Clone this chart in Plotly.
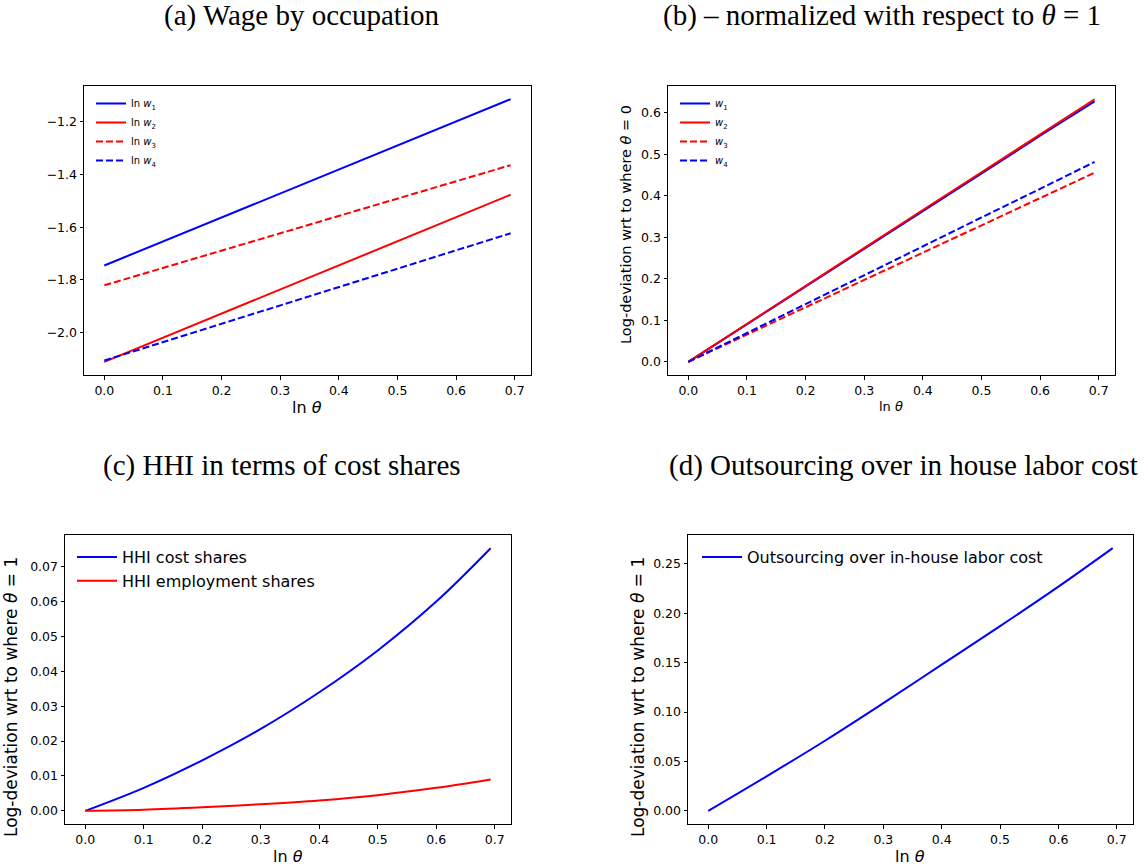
import plotly.graph_objects as go

W, H = 1145, 864

# ---------------- data ----------------
theta = [0.0, 0.1, 0.2, 0.3, 0.4, 0.5, 0.6, 0.693]

# (a) wage by occupation (levels)
ln_w1 = [-1.745, -1.654, -1.563, -1.472, -1.381, -1.290, -1.200, -1.115]
ln_w2 = [-2.110, -2.019, -1.927, -1.836, -1.744, -1.653, -1.562, -1.477]
ln_w3 = [-1.820, -1.754, -1.689, -1.623, -1.557, -1.492, -1.426, -1.365]
ln_w4 = [-2.105, -2.035, -1.966, -1.896, -1.827, -1.757, -1.688, -1.623]

# (b) normalized
w1_n = [0.0, 0.091, 0.182, 0.273, 0.364, 0.455, 0.545, 0.628]
w2_n = [0.0, 0.092, 0.183, 0.275, 0.366, 0.457, 0.548, 0.633]
w3_n = [0.0, 0.066, 0.132, 0.197, 0.263, 0.329, 0.395, 0.456]
w4_n = [0.0, 0.070, 0.139, 0.209, 0.278, 0.348, 0.417, 0.482]

# (c) HHI
hhi_cost = [0.0, 0.0066, 0.0145, 0.0235, 0.0340, 0.0460, 0.0600, 0.0753]
hhi_emp = [0.0, 0.0003, 0.0010, 0.0019, 0.0030, 0.0045, 0.0066, 0.0090]

# (d) outsourcing over in-house labor cost
outsourcing = [0.0, 0.035, 0.071, 0.109, 0.148, 0.187, 0.227, 0.266]

titles = ["(a) Wage by occupation",
          "(b) – normalized with respect to <i>θ</i> = 1",
          "(c) HHI in terms of cost shares",
          "(d) Outsourcing over in house labor cost"]

BLUE, RED = "#0000ff", "#ff0000"
DASH = "7px,3px"


def px_x(p):
    return p / W


def px_y(p):
    return 1 - p / H


fig = go.Figure()

# panel a
for name, y, col, dash in [("ln <i>w</i><sub>1</sub>", ln_w1, BLUE, "solid"),
                           ("ln <i>w</i><sub>2</sub>", ln_w2, RED, "solid"),
                           ("ln <i>w</i><sub>3</sub>", ln_w3, RED, DASH),
                           ("ln <i>w</i><sub>4</sub>", ln_w4, BLUE, DASH)]:
    fig.add_trace(go.Scatter(x=theta, y=y, mode="lines", name=name,
                             line=dict(color=col, width=2, dash=dash),
                             xaxis="x", yaxis="y", legend="legend"))
# panel b
for name, y, col, dash in [("<i>w</i><sub>1</sub>", w1_n, BLUE, "solid"),
                           ("<i>w</i><sub>2</sub>", w2_n, RED, "solid"),
                           ("<i>w</i><sub>3</sub>", w3_n, RED, DASH),
                           ("<i>w</i><sub>4</sub>", w4_n, BLUE, DASH)]:
    fig.add_trace(go.Scatter(x=theta, y=y, mode="lines", name=name,
                             line=dict(color=col, width=2, dash=dash),
                             xaxis="x2", yaxis="y2", legend="legend2"))
# panel c
fig.add_trace(go.Scatter(x=theta, y=hhi_cost, mode="lines", name="HHI cost shares",
                         line=dict(color=BLUE, width=2, shape="spline"),
                         xaxis="x3", yaxis="y3", legend="legend3"))
fig.add_trace(go.Scatter(x=theta, y=hhi_emp, mode="lines", name="HHI employment shares",
                         line=dict(color=RED, width=2, shape="spline"),
                         xaxis="x3", yaxis="y3", legend="legend3"))
# panel d
fig.add_trace(go.Scatter(x=theta, y=outsourcing, mode="lines",
                         name="Outsourcing over in-house labor cost",
                         line=dict(color=BLUE, width=2, shape="spline"),
                         xaxis="x4", yaxis="y4", legend="legend4"))

FONT = "DejaVu Sans"
tickfont = dict(family=FONT, size=12.5, color="black")

xticks = [0.0, 0.1, 0.2, 0.3, 0.4, 0.5, 0.6, 0.7]
xrange_ = [-0.0347, 0.7278]


def xaxis(dom, anchor):
    return dict(domain=dom, anchor=anchor, range=xrange_, tickvals=xticks,
                ticktext=[f"{v:.1f}" for v in xticks], ticks="outside", ticklen=3.5,
                tickwidth=1, tickcolor="black", showline=True, linecolor="black",
                linewidth=1, mirror=True, showgrid=False, zeroline=False,
                tickfont=tickfont, automargin=False)


def yaxis(dom, anchor, rng, vals, fmt):
    txt = [fmt(v).replace("-", "−") for v in vals]
    return dict(domain=dom, anchor=anchor, range=rng, tickvals=vals, ticktext=txt,
                ticks="outside", ticklen=3.5, tickwidth=1, tickcolor="black",
                showline=True, linecolor="black", linewidth=1, mirror=True,
                showgrid=False, zeroline=False, tickfont=tickfont, automargin=False)


top_dom = [px_y(375), px_y(86)]
bot_dom = [px_y(824), px_y(535)]

fig.update_layout(
    width=W, height=H, margin=dict(l=0, r=0, t=0, b=0),
    paper_bgcolor="white", plot_bgcolor="white",
    xaxis=xaxis([px_x(84), px_x(531)], "y"),
    yaxis=yaxis(top_dom, "x", [-2.16, -1.065], [-2.0, -1.8, -1.6, -1.4, -1.2],
                lambda v: f"{v:.1f}"),
    xaxis2=xaxis([px_x(668), px_x(1115)], "y2"),
    yaxis2=yaxis(top_dom, "x2", [-0.0317, 0.665], [0, 0.1, 0.2, 0.3, 0.4, 0.5, 0.6],
                 lambda v: f"{v:.1f}"),
    xaxis3=xaxis([px_x(65), px_x(511)], "y3"),
    yaxis3=yaxis(bot_dom, "x3", [-0.00377, 0.0791],
                 [0, 0.01, 0.02, 0.03, 0.04, 0.05, 0.06, 0.07], lambda v: f"{v:.2f}"),
    xaxis4=xaxis([px_x(688), px_x(1133)], "y4"),
    yaxis4=yaxis(bot_dom, "x4", [-0.0133, 0.2793],
                 [0, 0.05, 0.10, 0.15, 0.20, 0.25], lambda v: f"{v:.2f}"),
    legend=dict(x=px_x(91), y=px_y(89), xanchor="left", yanchor="top",
                bgcolor="rgba(255,255,255,0)", font=dict(family=FONT, size=10, color="black"),
                itemwidth=30, tracegroupgap=0),
    legend2=dict(x=px_x(675), y=px_y(89), xanchor="left", yanchor="top",
                 bgcolor="rgba(255,255,255,0)", font=dict(family=FONT, size=10, color="black"),
                 itemwidth=30),
    legend3=dict(x=px_x(72), y=px_y(540), xanchor="left", yanchor="top",
                 bgcolor="rgba(255,255,255,0)", font=dict(family=FONT, size=16, color="black"),
                 itemwidth=40),
    legend4=dict(x=px_x(697), y=px_y(540), xanchor="left", yanchor="top",
                 bgcolor="rgba(255,255,255,0)", font=dict(family=FONT, size=16, color="black"),
                 itemwidth=40),
)

ann = []
serif = dict(family="Liberation Serif", size=29, color="black")
for t, cx, cy in zip(titles, [301, 882, 282, 903], [15, 15, 465, 465]):
    ann.append(dict(text=t, x=px_x(cx), y=px_y(cy), xref="paper", yref="paper",
                    xanchor="center", yanchor="middle", showarrow=False, font=serif))

# x-axis titles
for cx, cy, sz in [(307, 407, 16), (891, 406, 13), (288, 856, 16), (910, 856, 16)]:
    ann.append(dict(text="ln <i>θ</i>", x=px_x(cx), y=px_y(cy), xref="paper", yref="paper",
                    xanchor="center", yanchor="middle", showarrow=False,
                    font=dict(family=FONT, size=sz, color="black")))
# y-axis titles
for t, cx, cy, sz in [("Log-deviation wrt to where <i>θ</i> = 0", 626, 225, 14.5),
                      ("Log-deviation wrt to where <i>θ</i> = 1", 11, 697, 17),
                      ("Log-deviation wrt to where <i>θ</i> = 1", 638, 697, 17)]:
    ann.append(dict(text=t, x=px_x(cx), y=px_y(cy), xref="paper", yref="paper",
                    xanchor="center", yanchor="middle", showarrow=False, textangle=-90,
                    font=dict(family=FONT, size=sz, color="black")))
fig.update_layout(annotations=ann)

fig.write_html("out.html",
               config={"displayModeBar": False},
               post_script="document.body.style.margin='0';"
                           "document.body.style.overflow='hidden';")
